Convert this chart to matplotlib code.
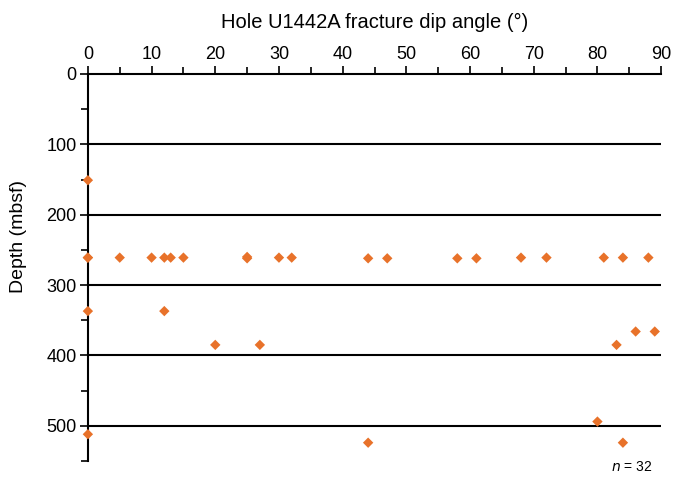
import numpy as np
import matplotlib
matplotlib.use("Agg")
import matplotlib.pyplot as plt
from matplotlib.ticker import MultipleLocator

plt.rcParams['font.family'] = ['Liberation Sans', 'DejaVu Sans']

orange = "#E8722A"

# fracture dip angle (deg) and depth (mbsf), Hole U1442A
dip = [0, 0, 5, 10, 12, 13, 15, 25, 25, 30, 32, 44, 47, 58, 61, 68, 72, 81, 84, 88,
       0, 0, 12, 20, 27, 83, 86, 89, 0, 44, 80, 84]
depth = [261, 261, 261, 261, 261, 261, 261, 260, 262, 261, 261, 262, 262, 262, 262, 261, 261, 261, 261, 261,
         151, 337, 337, 385, 385, 385, 366, 366, 512, 524, 494, 524]
n_label = "$n$ = %i" % len(dip)

fig = plt.figure(figsize=(6.76, 4.79), dpi=100)
ax = fig.add_axes([0.130, 0.0376, 0.848, 0.808])

for d in [100, 200, 300, 400, 500]:
    ax.axhline(d, color='black', lw=1.5, zorder=1)

ax.scatter(dip, depth, marker='D', s=28, color=orange, edgecolors='none', zorder=3, clip_on=False)

ax.set_xlim(0, 90)
ax.set_ylim(550, 0)

ax.xaxis.set_major_locator(MultipleLocator(10))
ax.xaxis.set_minor_locator(MultipleLocator(5))
ax.yaxis.set_major_locator(MultipleLocator(100))
ax.yaxis.set_minor_locator(MultipleLocator(50))
ax.xaxis.tick_top()
ax.xaxis.set_label_position('top')

for s in ['right', 'bottom']:
    ax.spines[s].set_visible(False)
for s in ['left', 'top']:
    ax.spines[s].set_linewidth(1.5)

ax.tick_params(axis='both', which='major', length=6, width=1.2, labelsize=13, pad=2)
ax.tick_params(axis='both', which='minor', length=5, width=1.2)

ax.set_xlabel("Hole U1442A fracture dip angle (°)", fontsize=14.5, labelpad=13)
ax.set_ylabel("Depth (mbsf)", fontsize=14)
ax.yaxis.set_label_coords(-0.106, 0.58)

ax.text(0.985, -0.016, n_label, transform=ax.transAxes, ha='right', va='center', fontsize=10)

plt.savefig("out.png", dpi=100)
plt.close()
